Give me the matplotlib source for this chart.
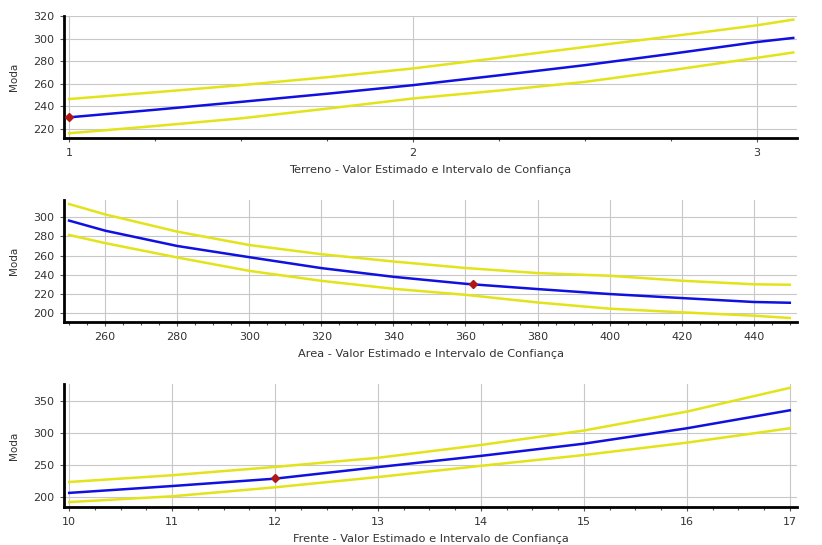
import numpy as np
import matplotlib
matplotlib.use("Agg")
import matplotlib.pyplot as plt
import matplotlib.ticker as ticker

plt.rcParams['font.family'] = ['DejaVu Sans']

# Terreno
terreno_x = [1.0, 1.25, 1.5, 1.75, 2.0, 2.25, 2.5, 2.75, 3.0, 3.105]
terreno_est = [230.3, 237.0, 244.0, 251.2, 258.8, 267.5, 276.5, 286.5, 297.0, 300.6]
terreno_sup = [246.5, 252.5, 258.8, 265.8, 273.6, 283.0, 292.6, 302.0, 311.8, 316.8]
terreno_inf = [216.2, 222.6, 229.4, 238.0, 247.0, 254.0, 261.7, 272.0, 283.0, 287.7]
terreno_pt = (1.0, 230.3)

# Area
area_x = [250, 260, 280, 300, 320, 340, 360, 380, 400, 420, 440, 450]
area_est = [296.5, 286.0, 270.0, 258.3, 246.9, 237.8, 230.5, 225.0, 219.8, 215.6, 211.5, 210.7]
area_sup = [313.8, 303.0, 285.0, 271.0, 261.4, 253.8, 247.0, 241.7, 238.9, 233.7, 230.0, 229.5]
area_inf = [281.5, 273.0, 258.0, 244.0, 233.6, 225.3, 219.0, 211.0, 204.5, 200.7, 197.2, 194.8]
area_pt = (362.0, 229.8)

# Frente
frente_x = [10, 11, 12, 13, 14, 15, 16, 17]
frente_est = [206.3, 217.0, 228.5, 246.5, 264.0, 283.0, 307.0, 335.0]
frente_sup = [223.3, 233.8, 246.8, 261.0, 281.0, 303.5, 333.0, 370.0]
frente_inf = [192.0, 201.0, 215.0, 231.0, 248.5, 265.3, 284.6, 307.0]
frente_pt = (12.0, 229.0)

panels = [
    dict(x=terreno_x, est=terreno_est, sup=terreno_sup, inf=terreno_inf, pt=terreno_pt,
         xlabel='Terreno - Valor Estimado e Intervalo de Confiança',
         xlim=(0.985, 3.116), ylim=(212, 320), xmaj=1, xmin=0.25, ymaj=20,
         pos=[0.0779, 0.7468, 0.8917, 0.2238]),
    dict(x=area_x, est=area_est, sup=area_sup, inf=area_inf, pt=area_pt,
         xlabel='Area - Valor Estimado e Intervalo de Confiança',
         xlim=(248.6, 452), ylim=(190.5, 318), xmaj=20, xmin=5, ymaj=20,
         pos=[0.0779, 0.409, 0.8917, 0.224]),
    dict(x=frente_x, est=frente_est, sup=frente_sup, inf=frente_inf, pt=frente_pt,
         xlabel='Frente - Valor Estimado e Intervalo de Confiança',
         xlim=(9.95, 17.07), ylim=(184.3, 376), xmaj=1, xmin=0.25, ymaj=50,
         pos=[0.0779, 0.0697, 0.8917, 0.2257]),
]

fig = plt.figure(figsize=(8.22, 5.45), dpi=100)

for p in panels:
    ax = fig.add_axes(p['pos'])
    ax.plot(p['x'], p['sup'], color='#e3e31a', lw=1.8)
    ax.plot(p['x'], p['inf'], color='#e3e31a', lw=1.8)
    ax.plot(p['x'], p['est'], color='#1010e0', lw=1.8)
    ax.plot(*p['pt'], marker='D', ms=4.5, color='#b01818', zorder=5)

    ax.set_xlim(*p['xlim'])
    ax.set_ylim(*p['ylim'])
    ax.xaxis.set_major_locator(ticker.MultipleLocator(p['xmaj']))
    ax.xaxis.set_minor_locator(ticker.MultipleLocator(p['xmin']))
    ax.yaxis.set_major_locator(ticker.MultipleLocator(p['ymaj']))
    ax.grid(True, which='major', color='#c8c8c8', lw=0.8)
    ax.set_axisbelow(True)

    for s in ['top', 'right']:
        ax.spines[s].set_visible(False)
    for s in ['left', 'bottom']:
        ax.spines[s].set_linewidth(2)
        ax.spines[s].set_color('black')

    ax.tick_params(axis='both', which='major', labelsize=8, length=3, width=0.8,
                   color='#555555', pad=4, labelcolor='#333333')
    ax.tick_params(axis='x', which='minor', length=2, width=0.8, color='#555555')
    ax.set_ylabel('Moda', fontsize=7.5, labelpad=10, color='#333333')
    ax.set_xlabel(p['xlabel'], fontsize=8.2, labelpad=5, color='#333333')

fig.savefig('out.png', dpi=100, facecolor='white')
